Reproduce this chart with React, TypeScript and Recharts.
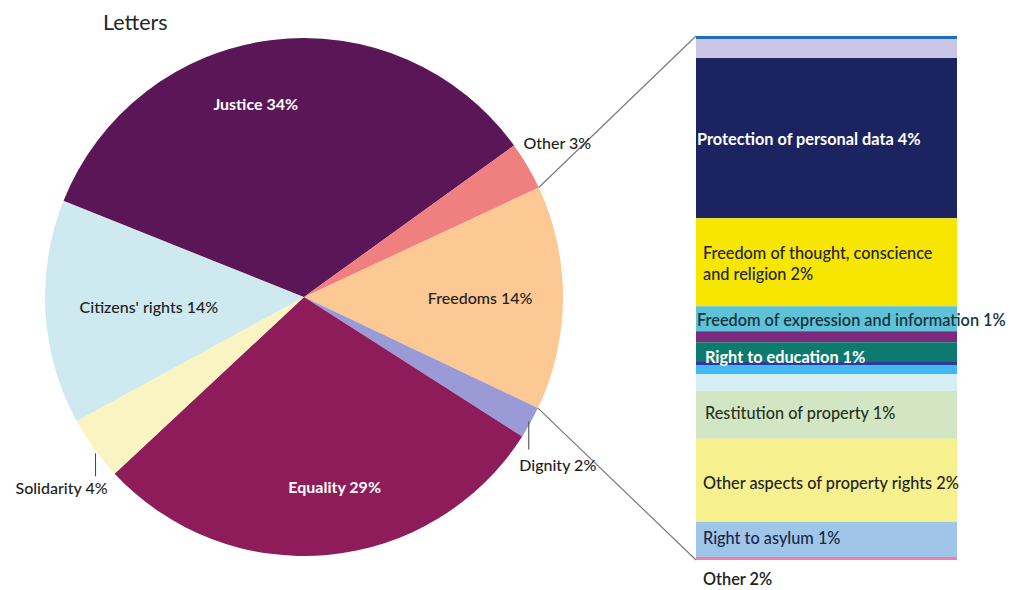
import { PieChart, Pie, Cell, BarChart, Bar, XAxis, YAxis, Customized } from "recharts";

// pie: letters by chapter (%), clockwise from the split-out slice
const PIE_NAMES = ["Freedoms", "Dignity", "Equality", "Solidarity", "Citizens' rights", "Justice", "Other"];
const PIE_VALUES = [14, 2, 29, 4, 14, 34, 3];
const PIE_COLORS = ["#fcc894", "#9a9ad6", "#8e1c5b", "#f9f4c2", "#cfe9f1", "#5a1657", "#f07f7f"];

// bar: breakdown of "Freedoms", top to bottom (% of all letters)
const BAR_VALUES = [0.08, 0.51, 4.28, 2.35, 0.67, 0.29, 0.53, 0.08, 0.24, 0.45, 1.28, 2.22, 0.94, 0.08];
const BAR_LABELS = [
  "",
  "",
  "Protection of personal data 4%",
  "Freedom of thought, conscience\nand religion 2%",
  "Freedom of expression and information 1%",
  "",
  "Right to education 1%",
  "",
  "",
  "",
  "Restitution of property 1%",
  "Other aspects of property rights 2%",
  "Right to asylum 1%",
  "Other 2%",
];
const BAR_COLORS = [
  "#1f6ebd", "#c9c6e6", "#1b2461", "#f7e600", "#5ec3d9", "#7b2a7d", "#0e7a6f",
  "#2d3a9a", "#3fb9ef", "#d5eef5", "#d3e6c4", "#f6f08f", "#9fc6e8", "#f07fa8",
];

const FONT = "Lato, 'Open Sans', sans-serif";

// geometry
const CX = 304;
const CY = 297;
const R = 259;
const START = 25;
const BAR_X = 696;
const BAR_TOP = 36;
const BAR_W = 261;
const BAR_BOTTOM = 560;
const RAD = Math.PI / 180;

const pieData = PIE_NAMES.map((name, i) => ({ name, value: PIE_VALUES[i] }));
const barRow: Record<string, number | string> = { name: "Freedoms" };
BAR_VALUES.forEach((v, i) => (barRow["s" + i] = v));
const barTotal = BAR_VALUES.reduce((a, b) => a + b, 0);

const polar = (r: number, a: number) => ({ x: CX + r * Math.cos(a * RAD), y: CY - r * Math.sin(a * RAD) });

// label placement per slice
const PIE_LABEL_LAYOUT: Record<string, any> = {
  Freedoms: { r: 0.68 },
  Dignity: { leader: [0, 28], dx: 29, dy: 43 },
  Equality: { r: 0.74, da: 4, light: true },
  Solidarity: { leader: [6, 29], dx: -34, dy: 40 },
  "Citizens' rights": { r: 0.6 },
  Justice: { r: 0.77, da: 7, light: true },
  Other: { r: 1.0, anchor: "start", dx: -4, dy: -23 },
};

function renderPieLabel(p: any) {
  const name = p.name ?? p.payload?.name;
  const lay = PIE_LABEL_LAYOUT[name] || { r: 0.7 };
  const text = `${name} ${p.value}%`;
  const style = {
    fontFamily: FONT,
    fontSize: 16,
    fontWeight: lay.light ? 700 : 500,
    fill: lay.light ? "#ffffff" : "#1e1e1e",
  };
  if (lay.leader) {
    const e = polar(R - 2, p.midAngle);
    return (
      <g>
        <line x1={e.x} y1={e.y + lay.leader[0]} x2={e.x} y2={e.y + lay.leader[1]} stroke="#404040" strokeWidth={1} />
        <text x={e.x + lay.dx} y={e.y + lay.dy} textAnchor="middle" dominantBaseline="central" style={style}>
          {text}
        </text>
      </g>
    );
  }
  const pt = polar(R * lay.r, p.midAngle + (lay.da || 0));
  return (
    <text
      x={pt.x + (lay.dx || 0)}
      y={pt.y + (lay.dy || 0)}
      textAnchor={lay.anchor || "middle"}
      dominantBaseline="central"
      style={style}
    >
      {text}
    </text>
  );
}

const BAR_LABEL_STYLE: Record<number, any> = {
  2: { fill: "#ffffff", weight: 700, indent: 1 },
  3: { fill: "#222222", weight: 500, indent: 7 },
  4: { fill: "#1c3440", weight: 600, indent: 1 },
  6: { fill: "#ffffff", weight: 700, indent: 9, dy: 4 },
  10: { fill: "#26331d", weight: 500, indent: 9, dy: -3 },
  11: { fill: "#222222", weight: 500, indent: 7, dy: 2 },
  12: { fill: "#18284a", weight: 500, indent: 7, dy: -2 },
  13: { fill: "#222222", weight: 600, indent: 7, below: true },
};

function renderBarLabel(p: any, i: number) {
  const text = BAR_LABELS[i];
  if (!text) return null;
  const st = BAR_LABEL_STYLE[i] || { fill: "#222", weight: 500, indent: 7 };
  const top = Math.min(p.y, p.y + p.height);
  const h = Math.abs(p.height);
  const lines = text.split("\n");
  const cy = st.below ? top + h + 18 : top + h / 2 + (st.dy || 0);
  const lh = 21;
  return (
    <text
      x={p.x + st.indent}
      y={cy - ((lines.length - 1) * lh) / 2}
      dominantBaseline="central"
      style={{ fontFamily: FONT, fontSize: 16.3, fontWeight: st.weight, fill: st.fill }}
    >
      {lines.map((l, k) => (
        <tspan key={k} x={p.x + st.indent} dy={k === 0 ? 0 : lh}>
          {l}
        </tspan>
      ))}
    </text>
  );
}

function Connectors() {
  const a = polar(R, START);
  const b = polar(R, START - (PIE_VALUES[0] / 100) * 360);
  return (
    <g stroke="#7a7a7a" strokeWidth={1.2}>
      <line x1={a.x} y1={a.y} x2={BAR_X} y2={BAR_TOP} />
      <line x1={b.x} y1={b.y} x2={BAR_X} y2={BAR_BOTTOM} />
    </g>
  );
}

export default function App() {
  return (
    <div style={{ position: "absolute", left: 0, top: 0, width: 1022, height: 590, background: "#fff" }}>
      <div
        style={{
          position: "absolute",
          left: 103,
          top: 8,
          fontFamily: FONT,
          fontSize: 21.5,
          lineHeight: "28px",
          color: "#262626",
        }}
      >
        Letters
      </div>
      <div style={{ position: "absolute", left: 0, top: 0 }}>
        <PieChart width={1022} height={590} margin={{ top: 0, right: 0, bottom: 0, left: 0 }}>
          <Customized component={Connectors} />
          <Pie
            data={pieData}
            dataKey="value"
            nameKey="name"
            cx={CX}
            cy={CY}
            outerRadius={R}
            startAngle={START}
            endAngle={START - 360}
            stroke="none"
            labelLine={false}
            label={renderPieLabel}
            isAnimationActive={false}
          >
            {pieData.map((d, i) => (
              <Cell key={d.name} fill={PIE_COLORS[i]} />
            ))}
          </Pie>
        </PieChart>
      </div>
      <div style={{ position: "absolute", left: BAR_X, top: 0 }}>
        <BarChart
          width={1022 - BAR_X}
          height={590}
          data={[barRow]}
          margin={{ top: BAR_TOP, right: 1022 - BAR_X - BAR_W, bottom: 590 - BAR_BOTTOM, left: 0 }}
          barCategoryGap={0}
          barGap={0}
        >
          <XAxis dataKey="name" hide />
          <YAxis type="number" hide reversed domain={[0, barTotal]} allowDataOverflow />
          {BAR_VALUES.map((_, i) => (
            <Bar
              key={i}
              dataKey={"s" + i}
              stackId="f"
              fill={BAR_COLORS[i]}
              stroke="none"
              isAnimationActive={false}
              label={(p: any) => renderBarLabel(p, i)}
            />
          ))}
        </BarChart>
      </div>
    </div>
  );
}
